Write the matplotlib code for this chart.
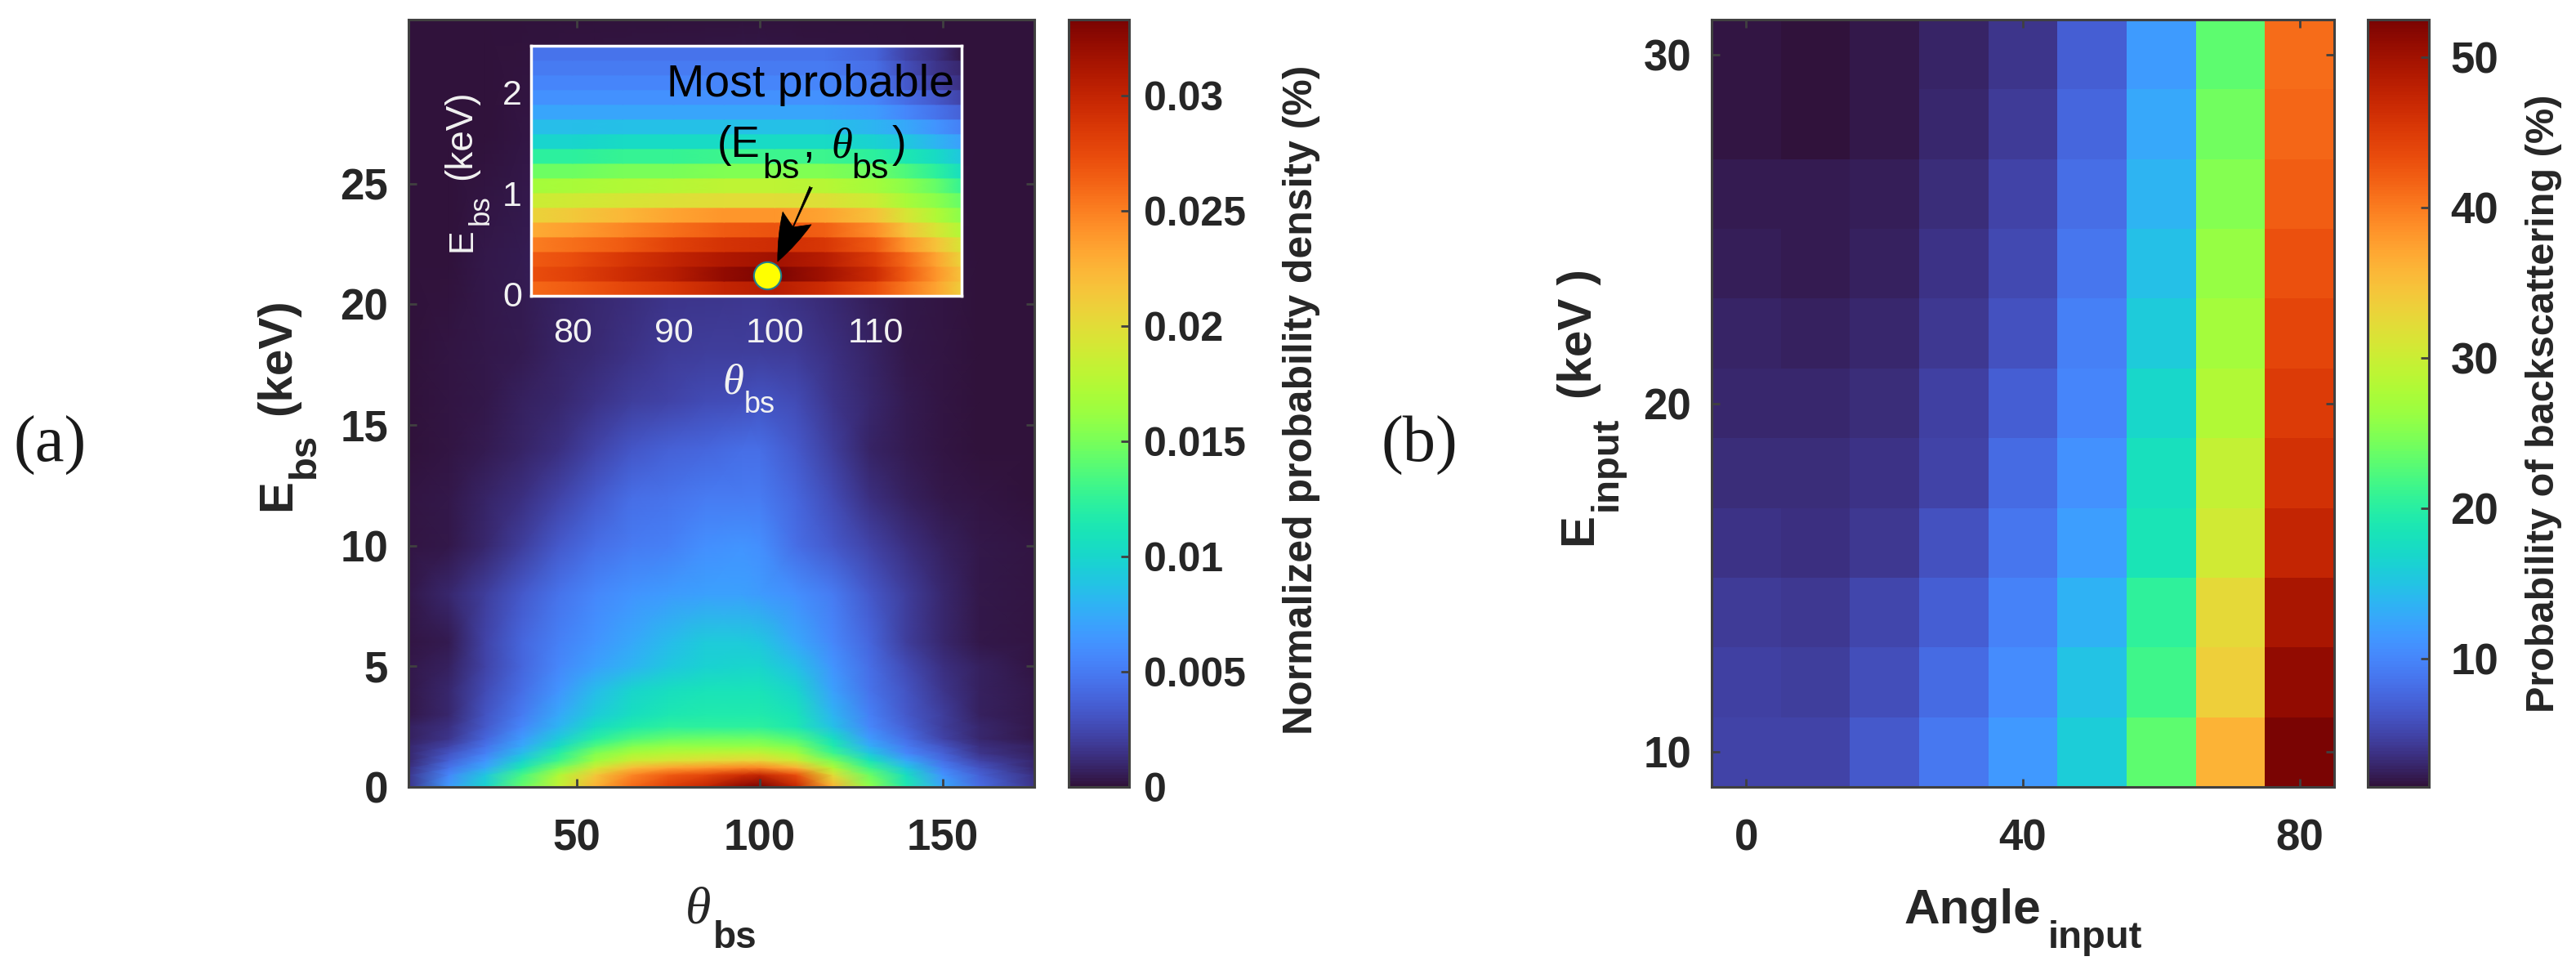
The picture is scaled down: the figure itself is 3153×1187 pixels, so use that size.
import matplotlib
matplotlib.use("Agg")
import matplotlib.pyplot as plt
import numpy as np

plt.rcParams["font.family"] = ["Liberation Sans", "DejaVu Sans"]

W, H = 3153, 1187
INK = "#262626"
EDGE = "#404040"
SERIF = "Liberation Serif"

# panel a, percent of the colour scale top
theta_knots = [4, 15, 25, 35, 45, 55, 65, 75, 85, 95, 100, 110, 120, 130, 140, 150, 160, 175]
energy_knots = [0, .5, .8, 1.1, 1.4, 1.7, 2, 2.5, 3, 4, 5, 6, 8, 10, 12, 14, 16, 18, 22, 27, 32]
density_table = [
    [5, 20, 30, 43, 55, 68, 78, 85, 90, 98, 100, 90, 68, 48, 35, 22, 13, 5],
    [5, 17, 27, 40, 52, 64, 74, 80, 83, 88, 90, 82, 60, 44, 32, 19, 11, 4],
    [4, 14, 22, 34, 45, 57, 66, 70, 72, 74, 74, 68, 52, 39, 27, 16, 9, 3],
    [3, 11, 19, 29, 39, 49, 56, 58, 60, 61, 61, 56, 45, 33, 22, 13, 7, 3],
    [3, 9, 16, 25, 36, 46, 51, 53, 54, 55, 55, 50, 39, 27, 17, 11, 5, 2],
    [3, 7, 14, 22, 31, 41, 46, 48, 48, 48, 48, 45, 35, 23, 15, 9, 4, 2],
    [2, 5, 12, 20, 28, 36, 41, 43, 44, 44, 44, 41, 32, 20, 13, 7, 3, 1],
    [2, 4, 10, 17, 24, 31, 35, 37, 37, 37, 37, 34, 26, 17, 11, 6, 3, 1],
    [1, 3, 9, 15, 22, 28, 32, 34, 35, 35, 35, 33, 24, 16, 10, 6, 2, 1],
    [1, 3, 8, 13, 19, 25, 30, 32, 33, 33, 33, 30, 21, 14, 9, 5, 2, 1],
    [1, 2, 7, 12, 17, 21, 24, 27, 29, 30, 30, 26, 19, 13, 8, 4, 2, .5],
    [.5, 1.5, 7, 12, 16, 19, 22, 25, 28, 28, 27, 22, 17, 12, 6, 3, 1, .5],
    [1, 3, 6, 10, 14, 17, 19, 20, 21, 21, 20, 18, 15, 10, 6, 3, 1, .5],
    [.5, 1, 3, 6, 10, 13, 15, 16, 18, 19, 18, 13, 10, 7, 4, 2, 1, .5],
    [.5, 1, 2.5, 4, 7, 10, 13, 14, 15, 15, 15, 12, 8, 4, 2, 1, .5, .3],
    [.3, .7, 1.5, 2.5, 4, 7, 9.5, 11, 12, 13, 13, 10, 6, 2.5, 1.2, .6, .3, .2],
    [.3, .5, 1, 2, 3, 4.5, 6, 7, 8, 8.5, 9, 8, 5, 3, 1.2, .5, .3, .2],
    [.2, .4, 1, 1.5, 2.5, 3.5, 4.5, 5.5, 6, 6, 6, 5.5, 4, 2.5, 1, .4, .2, .1],
    [0, .3, .8, 1.2, 2, 3, 3.5, 4, 4, 4.5, 4.5, 3.5, 2.5, 1.5, .8, .4, .2, 0],
    [0, .1, .3, .5, .8, 1, 1.5, 1.5, 1.8, 2, 2, 1.5, 1, .8, .4, .2, .1, 0],
    [0, 0, 0, .1, .1, .2, .3, .3, .3, .3, .3, .3, .2, .1, .1, 0, 0, 0],
]

# inset, 17 energy bins, fraction of the colour scale top
inset_theta = [75.9, 80, 85, 90, 95, 100, 105, 110, 113, 116, 118.5]
inset_edges = [-.02, .126, .272, .418, .564, .71, .856, 1.002, 1.148, 1.294, 1.44, 1.586, 1.732, 1.878, 2.024, 2.17, 2.316, 2.46]
inset_table = [
    [.78, .8, .83, .86, .9, .92, .88, .82, .76, .70, .63],
    [.82, .84, .88, .92, .97, 1, .95, .88, .8, .72, .65],
    [.8, .82, .86, .9, .93, .95, .92, .85, .78, .7, .62],
    [.75, .77, .8, .84, .87, .88, .86, .8, .72, .65, .58],
    [.69, .71, .74, .77, .8, .81, .79, .73, .65, .58, .52],
    [.62, .64, .67, .7, .72, .72, .7, .65, .58, .52, .47],
    [.56, .57, .58, .59, .6, .6, .59, .56, .51, .47, .43],
    [.5, .51, .52, .53, .54, .54, .53, .5, .47, .43, .38],
    [.44, .44, .45, .45, .46, .46, .46, .44, .41, .37, .32],
    [.37, .37, .38, .38, .39, .39, .39, .37, .34, .31, .27],
    [.3, .3, .31, .31, .31, .31, .31, .29, .27, .24, .21],
    [.255, .255, .26, .26, .26, .26, .26, .24, .22, .19, .16],
    [.215, .215, .215, .215, .215, .215, .215, .2, .17, .14, .11],
    [.185, .185, .185, .185, .185, .185, .185, .165, .13, .1, .07],
    [.165, .165, .165, .165, .165, .165, .165, .145, .1, .07, .04],
    [.15, .15, .15, .15, .15, .15, .15, .13, .085, .05, .03],
    [.14, .14, .14, .14, .14, .14, .14, .115, .07, .04, .01],
]
peak_theta = 99.3
peak_energy = 0.185

# panel b
angle_input = [0, 10, 20, 30, 40, 50, 60, 70, 80]
energy_input = [10, 12, 14, 16, 18, 20, 22, 24, 26, 28, 30]
backscatter = [
    [5, 5, 6.5, 9, 11.5, 16, 23, 36, 53],
    [4.8, 4.6, 5.8, 8, 10.5, 15, 21.5, 33.5, 51],
    [4.3, 4.2, 5.2, 7, 9.8, 13.5, 20.5, 32.5, 49.5],
    [3.7, 3.6, 4.2, 6, 8.7, 12, 18.5, 30.5, 47.5],
    [3.3, 3.3, 3.8, 5, 8, 11, 18, 29.5, 46],
    [3, 3, 3.4, 4.7, 7, 10, 17, 28, 45],
    [2.8, 2.6, 3, 4.2, 6, 9.5, 15.7, 27, 44],
    [2.4, 2.2, 2.5, 3.7, 5.3, 8.8, 14.7, 26, 43],
    [2.2, 2.1, 2.3, 3.4, 4.9, 8.1, 13.7, 25, 42],
    [1.8, 1.5, 1.9, 3, 4.3, 7.6, 12.7, 24, 41.5],
    [1.8, 1.5, 1.9, 2.8, 4, 7, 11.8, 23, 41],
]

density_ticks = [0, 0.005, 0.01, 0.015, 0.02, 0.025, 0.03]
density_labels = ["0", "0.005", "0.01", "0.015", "0.02", "0.025", "0.03"]
density_max = 0.0333
back_min, back_max = 1.45, 52.5


def pixel_axes(fig, x0, y0, x1, y1):
    return fig.add_axes([x0 / W, 1 - y1 / H, (x1 - x0) / W, (y1 - y0) / H])


def put(fig, x, y, text, size, weight="normal", color=INK, rotation=0, ha="left", **kw):
    # x, y in image pixels, anchored on the text baseline
    fig.text(x / W, 1 - y / H, text, fontsize=size, fontweight=weight, color=color,
             rotation=rotation, rotation_mode="anchor", ha=ha, va="baseline", **kw)


def style_box(ax, size=38):
    for s in ax.spines.values():
        s.set_color(EDGE)
        s.set_linewidth(2.2)
    ax.tick_params(direction="in", length=7, width=2, color=EDGE, top=True, right=True,
                   labelsize=size, labelcolor=INK)
    ax.tick_params(axis="x", pad=28)
    ax.tick_params(axis="y", pad=18)
    for t in ax.get_xticklabels() + ax.get_yticklabels():
        t.set_fontweight("bold")


def add_colorbar(fig, box, mesh, ticks, labels, size, pad):
    cax = pixel_axes(fig, *box)
    cb = fig.colorbar(mesh, cax=cax)
    cb.set_ticks(ticks)
    cb.set_ticklabels(labels)
    cb.outline.set_edgecolor(EDGE)
    cb.outline.set_linewidth(2.2)
    cax.tick_params(direction="in", length=7, width=2, color=EDGE, labelsize=size,
                    labelcolor=INK, pad=pad)
    for t in cax.get_yticklabels():
        t.set_fontweight("bold")
    return cb


fig = plt.figure(figsize=(W / 100, H / 100), dpi=100)

# panel a
ax = pixel_axes(fig, 500, 24, 1266, 963)
density = np.array(density_table) / 100 * density_max
mesh_a = ax.pcolormesh(theta_knots, energy_knots, density, shading="gouraud",
                       cmap="turbo", vmin=0, vmax=density_max)
ax.set_xlim(4, 175)
ax.set_ylim(0, 31.8)
ax.set_xticks([50, 100, 150])
ax.set_yticks([0, 5, 10, 15, 20, 25])
style_box(ax)
put(fig, 839, 1129, "θ", 46, family=SERIF, style="italic")
put(fig, 873, 1160, "bs", 33, "bold")
put(fig, 355, 625, "E", 42, "bold", rotation=90)
put(fig, 385, 585, "bs", 34, "bold", rotation=90)
put(fig, 355, 508, "(keV)", 42, "bold", rotation=90)
add_colorbar(fig, (1308, 24, 1382, 963), mesh_a, density_ticks, density_labels, 36, 13)
put(fig, 1606, 489, "Normalized probability density (%)", 36, "bold", rotation=90, ha="center")

# inset
axi = pixel_axes(fig, 650, 56, 1177, 362)
inset = np.array(inset_table) * density_max
for i, row in enumerate(inset):
    axi.pcolormesh(inset_theta, inset_edges[i:i + 2], np.vstack([row, row]), shading="gouraud",
                   cmap="turbo", vmin=0, vmax=density_max)
axi.set_xlim(75.9, 118.5)
axi.set_ylim(-.02, 2.46)
axi.set_xticks([80, 90, 100, 110])
axi.set_yticks([0, 1, 2])
for s in axi.spines.values():
    s.set_color("white")
    s.set_linewidth(2.5)
axi.tick_params(length=0, labelsize=31, labelcolor="#f2f2f2")
axi.tick_params(axis="x", pad=19)
axi.tick_params(axis="y", pad=8)
put(fig, 884, 482, "θ", 38, color="#f2f2f2", family=SERIF, style="italic")
put(fig, 911, 505, "bs", 26, color="#f2f2f2")
put(fig, 576, 308, "E", 31, color="#f2f2f2", rotation=90)
put(fig, 598, 275, "bs", 25, color="#f2f2f2", rotation=90)
put(fig, 576, 220, "(keV)", 33, color="#f2f2f2", rotation=90)
axi.plot([peak_theta], [peak_energy], "o", ms=24, mfc="#ffff00", mec="#1f7f8f", mew=1.5, zorder=5)
axi.annotate("", xy=(100.3, 0.32), xytext=(103.6, 1.06),
             arrowprops=dict(arrowstyle="fancy,head_length=1.9,head_width=1.25,tail_width=0.12",
                             mutation_scale=22, color="black", lw=0.5, shrinkA=0, shrinkB=0), zorder=6)
put(fig, 816, 118, "Most probable", 40, color="black")
put(fig, 878, 192, "(E", 38, color="black")
put(fig, 933, 218, "bs", 31, color="black")
put(fig, 982, 192, ",", 38, color="black")
put(fig, 1017, 192, "θ", 38, color="black", family=SERIF, style="italic")
put(fig, 1042, 218, "bs", 31, color="black")
put(fig, 1092, 192, ")", 38, color="black")

# panel b
axb = pixel_axes(fig, 2095, 24, 2857, 963)
mesh_b = axb.pcolormesh(angle_input, energy_input, backscatter, shading="nearest",
                        cmap="turbo", vmin=back_min, vmax=back_max)
axb.set_xticks([0, 40, 80])
axb.set_yticks([10, 20, 30])
style_box(axb)
put(fig, 2330, 1130, "Angle", 43.5, "bold")
put(fig, 2507, 1160, "input", 34, "bold")
put(fig, 1948, 667, "E", 42, "bold", rotation=90)
put(fig, 1979, 625, "input", 34, "bold", rotation=90)
put(fig, 1948, 488, "(keV )", 42, "bold", rotation=90)
add_colorbar(fig, (2898, 24, 2973, 963), mesh_b, [10, 20, 30, 40, 50],
             ["10", "20", "30", "40", "50"], 38, 19)
put(fig, 3126, 494, "Probability of backscattering (%)", 35, "bold", rotation=90, ha="center")

put(fig, 16, 565, "(a)", 58, color="#1a1a1a", family=SERIF)
put(fig, 1690, 565, "(b)", 58, color="#1a1a1a", family=SERIF)

fig.savefig("out.png", dpi=100)
